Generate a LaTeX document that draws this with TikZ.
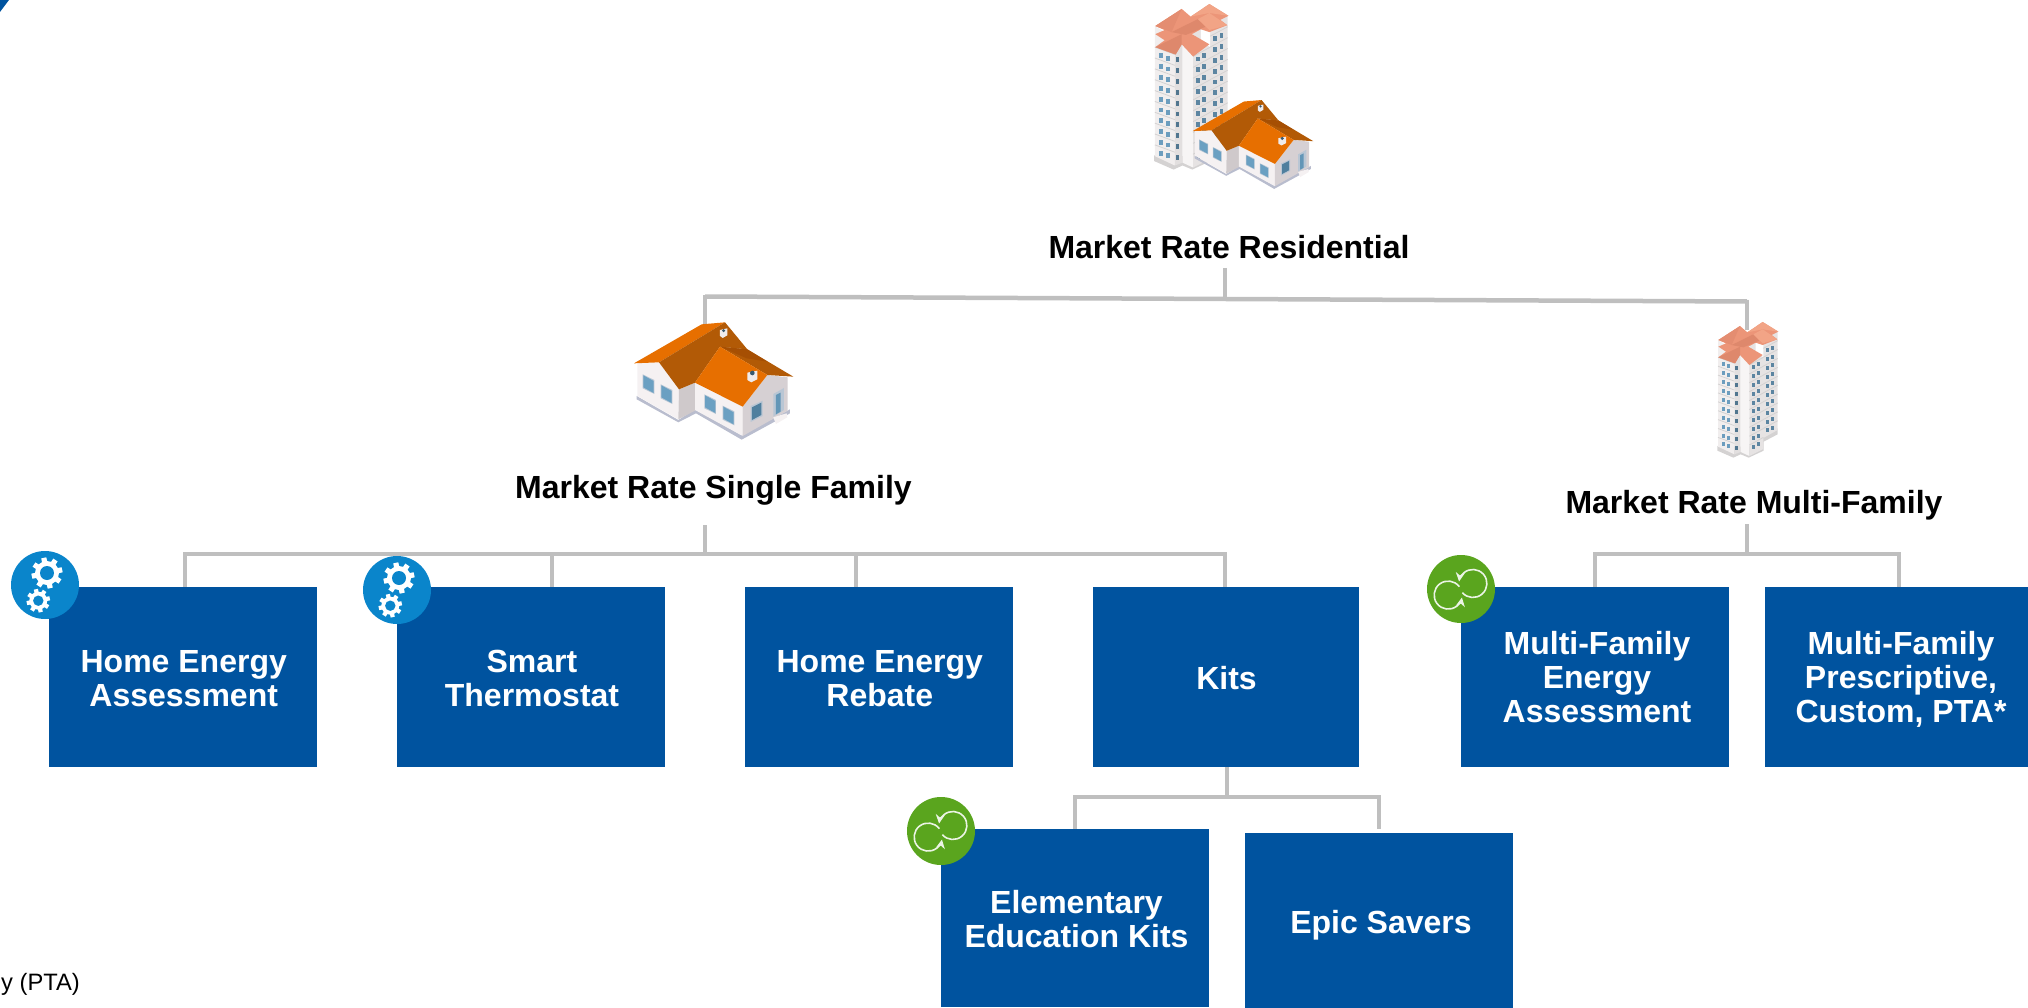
\documentclass[tikz,border=0pt]{standalone}
\usepackage{fontspec}
\setmainfont{Liberation Sans}
\usetikzlibrary{backgrounds,arrows.meta}
\definecolor{boxblue}{HTML}{00539F}
\definecolor{conngrey}{HTML}{BFBFBF}
\definecolor{gearblue}{HTML}{0A85CB}
\definecolor{loopgreen}{HTML}{5AA51E}
\definecolor{roofA}{HTML}{E76F00}
\definecolor{roofB}{HTML}{B25A06}
\definecolor{roofC}{HTML}{A64F03}
\definecolor{wallA}{HTML}{F5F1F2}
\definecolor{wallB}{HTML}{CFC9CB}
\definecolor{wallC}{HTML}{D6D0D3}
\definecolor{baseH}{HTML}{B9BDCE}
\definecolor{winF}{HTML}{B9C6D4}
\definecolor{winG}{HTML}{6BA0C2}
\definecolor{winD}{HTML}{4F7F9E}
\definecolor{salA}{HTML}{EC9578}
\definecolor{salB}{HTML}{DE886C}
\definecolor{salC}{HTML}{F2A486}
\definecolor{towA}{HTML}{F1EEEE}
\definecolor{towB}{HTML}{E2DFDF}
\definecolor{towC}{HTML}{F7F5F5}
\definecolor{towD}{HTML}{E6E3E3}
\definecolor{towE}{HTML}{D4D2D2}
\definecolor{towW}{HTML}{6C9DBE}
\newcommand{\ptxt}[3]{\raisebox{#2pt}[\height][\depth]{\hspace*{#1pt}\begin{tabular}{@{}c@{}}#3\end{tabular}}}
\newcommand{\gearshape}[6]{%
  \begin{scope}[shift={(#1,#2)}]
    \fill[white] (0,0) circle (#4);
    \foreach \a in {0,45,90,135}{
      \fill[white,rotate=\a+12] (-#6,-#3) rectangle (#6,#3);
    }
    \fill[gearblue] (0,0) circle (#5);
  \end{scope}}
\newcommand{\winq}[5]{% x y w h slope
  \fill[winF] (#1-2,#2-3) -- ++(#3+4,#3*#5) -- ++(0,#4+6) -- ++(-#3-4,-#3*#5) -- cycle;
  \fill[winG] (#1,#2) -- ++(#3,#3*#5) -- ++(0,#4) -- ++(-#3,-#3*#5) -- cycle;}
\tikzset{
  x=1pt,y=-1pt,
  prog/.style={fill=boxblue,text=white,font=\fontsize{32}{34}\selectfont\bfseries,align=center,inner sep=0pt,minimum height=180pt,minimum width=268pt,anchor=center},
  seglabel/.style={text=black,font=\fontsize{32}{34}\selectfont\bfseries,inner sep=0pt,anchor=center},
  conn/.style={draw=conngrey,line width=4pt,line cap=butt,line join=miter},
  gearicon/.pic={
    \fill[gearblue] (0,0) circle (34);
    \gearshape{2}{-12}{15.5}{12}{7}{2.6}
    \gearshape{-6.7}{15.7}{11.7}{9}{5.2}{2.1}
  },
  loopicon/.pic={
    \fill[loopgreen] (0,0) circle (34);
    \begin{scope}[shift={(-51,-49)},scale=0.3333]
      \draw[draw=white!88!loopgreen,line width=1.6pt,-{Stealth[length=9pt,width=9pt]}] (148,140) arc[start angle=-37,end angle=-350,radius=42];
      \draw[draw=white!88!loopgreen,line width=1.6pt,-{Stealth[length=9pt,width=9pt]}] (157,158) arc[start angle=139,end angle=-172,radius=42];
    \end{scope}
  },
  houseicon/.pic={
    \fill[baseH] (80,288) -- (205,360) -- (255,328) -- (395,406) -- (540,328) -- (540,340) -- (395,419) -- (258,340) -- (205,367) -- (80,298) -- cycle;
    \fill[wallA] (82,190) -- (147,187) -- (207,268) -- (205,358) -- (82,288) -- cycle;
    \fill[wallB] (207,268) -- (255,248) -- (255,332) -- (205,358) -- cycle;
    \fill[wallA] (255,248) -- (398,320) -- (398,408) -- (255,330) -- cycle;
    \fill[wallC] (398,320) -- (472,225) -- (533,232) -- (533,332) -- (398,408) -- cycle;
    \fill[roofA] (72,190) -- (275,73) -- (345,67) -- (147,187) -- cycle;
    \fill[roofB] (147,187) -- (345,67) -- (412,148) -- (330,140) -- (255,248) -- (207,268) -- cycle;
    \fill[roofB] (330,140) -- (412,148) -- (550,230) -- (472,225) -- cycle;
    \fill[roofC] (330,140) -- (412,148) -- (472,185) -- (410,175) -- cycle;
    \fill[roofA] (330,140) -- (472,225) -- (398,320) -- (255,248) -- cycle;
    \winq{100}{226}{31}{36}{0.55}
    \winq{154}{256}{31}{36}{0.55}
    \winq{285}{286}{31}{36}{0.55}
    \winq{340}{320}{31}{36}{0.55}
    \fill[winF] (422,318) -- (458,302) -- (458,348) -- (422,366) -- cycle;
    \fill[winD] (426,322) -- (454,308) -- (454,345) -- (426,360) -- cycle;
    \fill[winF] (490,282) -- (522,264) -- (522,330) -- (490,350) -- cycle;
    \fill[winG!70!winD] (498,285) -- (512,278) -- (512,335) -- (498,343) -- cycle;
    \fill[wallA] (490,352) -- (530,340) -- (532,352) -- (498,372) -- cycle;
    \fill[wallA!85!wallB] (330,90) -- (352,85) -- (352,106) -- (338,114) -- (330,108) -- cycle;
    \fill[winD!70!black] (341,92) circle (5);
    \fill[wallA!85!wallB] (412,218) -- (442,212) -- (442,238) -- (424,247) -- (412,240) -- cycle;
    \fill[winD!70!black] (427,219) circle (7);
  },
  towericon/.pic={
    \fill[towE] (82,438) -- (82,452) -- (130,473) -- (152,463) -- (176,473) -- (221,452) -- (221,425) -- (263,403) -- (263,385) -- (176,440) -- (130,440) -- cycle;
    \fill[towD] (178,110) -- (263,95) -- (263,390) -- (218,415) -- (178,300) -- cycle;
    \fill[towA] (84,120) -- (133,150) -- (133,463) -- (84,440) -- cycle;
    \fill[towB] (133,150) -- (152,150) -- (152,456) -- (133,463) -- cycle;
    \fill[towC] (152,150) -- (178,165) -- (178,468) -- (152,456) -- cycle;
    \fill[towD] (178,195) -- (220,172) -- (220,447) -- (178,468) -- cycle;
    \fill[white] (197,130) -- (220,118) -- (220,172) -- (197,155) -- cycle;
    \foreach \k in {0,...,9}{
      \pgfmathsetmacro{\yy}{26.7*\k}
      \draw[towE,line width=0.8pt] (84,172+\yy) -- (133,190+\yy);
      \draw[towE,line width=0.8pt] (178,195+\yy) -- (220,172+\yy);
      \draw[towE,line width=0.8pt] (220,145+\yy) -- (263,122+\yy);
      \fill[towW] (95,187+\yy) rectangle +(9,12);
      \fill[towW] (111,193+\yy) rectangle +(9,12);
      \fill[towW!75!black] (136,197+\yy) rectangle +(8,12);
      \fill[towW!85!black] (185,195+\yy) rectangle +(9,12);
      \fill[towW!85!black] (200,187+\yy) rectangle +(9,12);
      \fill[towW!85!black] (228,145+\yy) rectangle +(9,12);
      \fill[towW!85!black] (243,137+\yy) rectangle +(9,12);
    }
    % roof silhouette
    \fill[salA] (85,120) -- (150,78) -- (172,97) -- (218,66) -- (265,95) -- (245,105) -- (262,118) -- (218,135) -- (197,128) -- (175,140) -- (218,165) -- (178,195) -- (150,165) -- (135,190) -- (85,172) -- (108,155) -- (85,140) -- (108,130) -- cycle;
    \fill[salB] (125,135) -- (190,103) -- (208,122) -- (160,142) -- cycle;
    \fill[salC] (172,97) -- (218,66) -- (265,95) -- (218,88) -- cycle;
    \fill[salC] (190,103) -- (218,88) -- (262,118) -- (218,130) -- cycle;
    \fill[salB] (85,172) -- (150,140) -- (150,165) -- (135,190) -- cycle;
    \fill[salB!60!salA] (85,120) -- (150,78) -- (125,135) -- cycle;
  }
}
\begin{document}
\begin{tikzpicture}
\path[use as bounding box] (0,0) rectangle (2028,1008);
\clip (0,0) rectangle (2028,1008);
% corner mark
\fill[boxblue] (0,0) -- (9,0) -- (0,12) -- cycle;
% programme boxes
\node[prog] (hea) at (183,677) {\ptxt{1.5}{-5.7}{Home Energy\\Assessment}};
\node[prog] (st) at (531,677) {\ptxt{2}{-5.7}{Smart\\Thermostat}};
\node[prog] (her) at (879,677) {\ptxt{1.5}{-5.7}{Home Energy\\Rebate}};
\node[prog,minimum width=266pt] (kits) at (1226,677) {\ptxt{1}{-5.7}{Kits}};
\node[prog] (mfea) at (1595,677) {\ptxt{4}{-4.7}{Multi-Family\\Energy\\Assessment}};
\node[prog] (mfpc) at (1899,677) {\ptxt{4}{-4.7}{Multi-Family\\Prescriptive,\\Custom, PTA*}};
\node[prog,minimum height=178pt] (eek) at (1075,918) {\ptxt{3}{-5.7}{Elementary\\Education Kits}};
\node[prog,minimum height=175pt] (epic) at (1379,920.5) {\ptxt{4}{-6.2}{Epic Savers}};
% labels
\node[seglabel] (root) at (1229,247) {Market Rate Residential};
\node[seglabel] (sf) at (713.5,490) {Market Rate Single Family};
\node[seglabel] (mf) at (1754,505.5) {Market Rate Multi-Family};
% footnote fragment
\node[text=black,font=\fontsize{23.7}{25}\selectfont,inner sep=0pt,anchor=base east] (fn) at (80,990) {y (PTA)};
% connector anchors
\coordinate (rootOut) at (1225,268);
\coordinate (rootJ) at (1225,299);
\coordinate (barL) at (705,296.5);
\coordinate (barR) at (1747,301.5);
\coordinate (sfIn) at (705,325);
\coordinate (mfIn) at (1747,330);
\coordinate (sfOut) at (705,525);
\coordinate (sfJ) at (705,554);
\coordinate (sfBarL) at (185,554);
\coordinate (sfBarR) at (1225,554);
\coordinate (heaIn) at (185,587);
\coordinate (stIn) at (552,587);
\coordinate (stJ) at (552,554);
\coordinate (herIn) at (856,587);
\coordinate (herJ) at (856,554);
\coordinate (kitsIn) at (1225,587);
\coordinate (mfOut) at (1747,524);
\coordinate (mfJ) at (1747,554);
\coordinate (mfBarL) at (1595,554);
\coordinate (mfBarR) at (1899,554);
\coordinate (mfeaIn) at (1595,587);
\coordinate (mfpcIn) at (1899,587);
\coordinate (kitsOut) at (1227,767);
\coordinate (kitsJ) at (1227,797);
\coordinate (kBarL) at (1075,797);
\coordinate (kBarR) at (1379,797);
\coordinate (eekIn) at (1075,829);
\coordinate (epicIn) at (1379,829);
\begin{scope}[on background layer]
\draw[conn] (rootOut) -- (rootJ);
\draw[conn,line width=4.5pt] (barL) -- (barR);
\draw[conn] ([yshift=2pt]barL) -- (sfIn);
\draw[conn] ([yshift=2pt]barR) -- (mfIn);
\draw[conn] (sfOut) -- (sfJ);
\draw[conn] ([xshift=-2pt]sfBarL) -- ([xshift=2pt]sfBarR);
\draw[conn] (sfBarL) -- (heaIn);
\draw[conn] (stJ) -- (stIn);
\draw[conn] (herJ) -- (herIn);
\draw[conn] (sfBarR) -- (kitsIn);
\draw[conn] (mfOut) -- (mfJ);
\draw[conn] ([xshift=-2pt]mfBarL) -- ([xshift=2pt]mfBarR);
\draw[conn] (mfBarL) -- (mfeaIn);
\draw[conn] (mfBarR) -- (mfpcIn);
\draw[conn] (kitsOut) -- (kitsJ);
\draw[conn] ([xshift=-2pt]kBarL) -- ([xshift=2pt]kBarR);
\draw[conn] (kBarL) -- (eekIn);
\draw[conn] (kBarR) -- (epicIn);
\end{scope}
% building icons
\pic[shift={(1120.7,-22.8)},scale=0.4067] {towericon};
\pic[shift={(1174.4,83.1)},scale=0.2526] {houseicon};
\pic[shift={(610,300)},scale=0.3333] {houseicon};
\pic[shift={(1690,300)},scale=0.3333] {towericon};
% badges
\pic[shift={(45,585)}] {gearicon};
\pic[shift={(397,590)}] {gearicon};
\pic[shift={(1461,589)}] {loopicon};
\pic[shift={(941,831)}] {loopicon};
\end{tikzpicture}
\end{document}
